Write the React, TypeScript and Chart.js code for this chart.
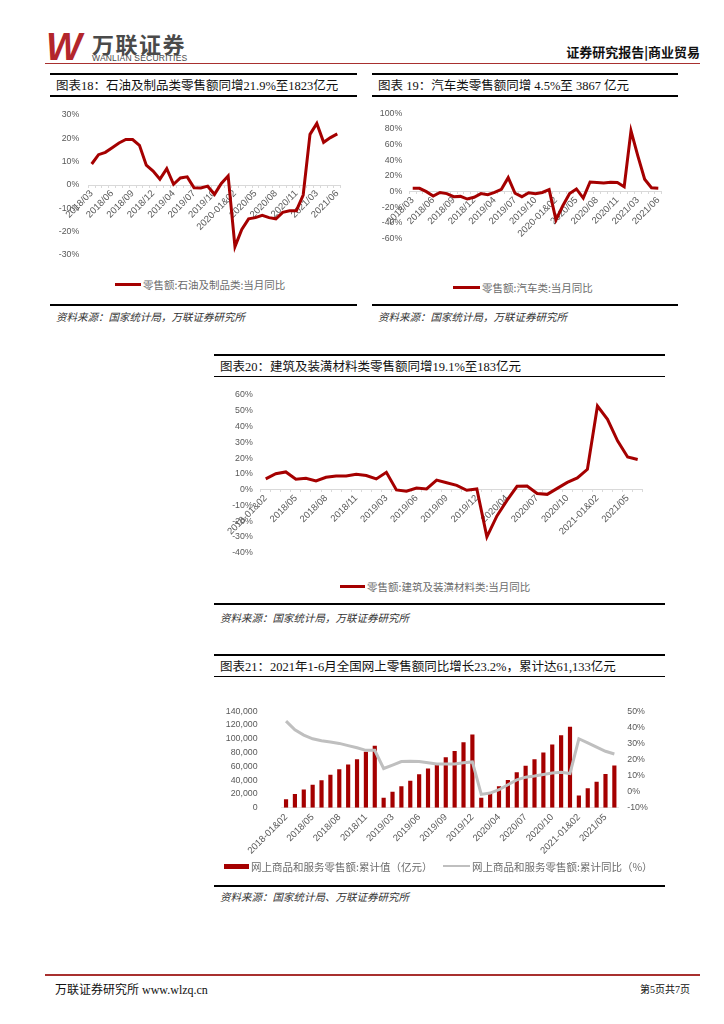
import React, { useEffect, useRef } from 'react';
import { Chart, registerables } from 'chart.js';

Chart.register(...registerables);

// ---------------- data ----------------
const monthsA = [
  '2018/03', '2018/04', '2018/05', '2018/06', '2018/07', '2018/08', '2018/09', '2018/10', '2018/11', '2018/12',
  '2019-01&02', '2019/03', '2019/04', '2019/05', '2019/06', '2019/07', '2019/08', '2019/09', '2019/10', '2019/11', '2019/12',
  '2020-01&02', '2020/03', '2020/04', '2020/05', '2020/06', '2020/07', '2020/08', '2020/09', '2020/10', '2020/11', '2020/12',
  '2021-01&02', '2021/03', '2021/04', '2021/05', '2021/06',
];

const monthsB = [
  '2018-01&02', '2018/03', '2018/04', '2018/05', '2018/06', '2018/07', '2018/08', '2018/09', '2018/10', '2018/11', '2018/12',
  '2019-01&02', '2019/03', '2019/04', '2019/05', '2019/06', '2019/07', '2019/08', '2019/09', '2019/10', '2019/11', '2019/12',
  '2020-01&02', '2020/03', '2020/04', '2020/05', '2020/06', '2020/07', '2020/08', '2020/09', '2020/10', '2020/11', '2020/12',
  '2021-01&02', '2021/03', '2021/04', '2021/05', '2021/06',
];

// 图表18 石油及制品类 当月同比 (%)
const petroYoY = [
  9, 13, 14, 16, 18, 19.5, 19.5, 17, 8.5, 6,
  2.5, 7, 0.3, 3, 3.5, -1.2, -1.3, -0.5, -4, 0.7, 3.9,
  -26.4, -19, -14.5, -14, -13, -14, -14.5, -11.7, -11, -11, -4.3,
  21.7, 26.4, 18.3, 20.3, 21.9,
];

// 图表19 汽车类 当月同比 (%)
const autoYoY = [
  4.3, 4.3, 0, -5.5, -1, -2.5, -6.4, -6, -9.4, -7.2,
  -2.5, -3.8, -1, 3, 17.9, -2, -6.4, -1.3, -2.5, -1, 2.6,
  -36, -18, -2.4, 3.5, -8.2, 12.3, 11.8, 11.2, 12, 11.8, 6.4,
  77.6, 45.7, 15.8, 5, 4.5,
];

// 图表20 建筑及装潢材料类 当月同比 (%)
const buildYoY = [
  6.8, 10.1, 11.2, 6.6, 7.2, 5.5, 7.8, 8.7, 8.7, 9.7, 8.9,
  6.8, 11, -0.2, -1, 1, 0.4, 6, 4.4, 2.7, -0.4, 0.4,
  -30, -16.7, -6.8, 2.1, 2.3, -2.5, -3, 0.8, 4.6, 7.4, 12.9,
  53, 44.6, 30.9, 20.7, 19.1,
];

// 图表21 网上商品和服务零售额 累计值 (亿元)
const onlineCum = [
  12400, 20000, 26400, 33200, 40000, 48000, 56000, 62800, 70400, 81200, 90100,
  14400, 23200, 31200, 39200, 48400, 56800, 64400, 73200, 82500, 95200, 106300,
  14400, 21600, 31200, 40400, 51600, 60800, 70400, 80000, 91700, 105200, 117600,
  17600, 28100, 37700, 48800, 61100,
];

// 图表21 网上商品和服务零售额 累计同比 (%)
const onlineYoY = [
  43.9, 38.5, 35.2, 32.9, 31.7, 30.9, 30, 28.6, 27.3, 25.7, 25.7,
  14.4, 16.5, 18.7, 18.9, 18.7, 18, 17.2, 17.2, 17.2, 18, 18.5,
  -1.7, -0.9, 1.2, 4.3, 7.3, 9, 9.7, 10.6, 11.6, 12, 11.3,
  32.9, 30.3, 27.7, 25.1, 23.4,
];

// ---------------- styles ----------------
const RED = '#a50000';
const LINE_GREY = '#bfbfbf';
const AXIS_TEXT = '#595959';
const X_FONT = { family: '"Liberation Sans", Arial, sans-serif', size: 9.5 };
const Y_FONT = { family: '"Liberation Sans", Arial, sans-serif', size: 8.8 };
const CJK = '"Liberation Serif", "Noto Sans CJK SC", serif';
const CJK_SANS = '"Noto Sans CJK SC", sans-serif';

const everyThird = (labels: string[]) => (_v: any, i: number) => (i % 3 === 0 ? labels[i] : '');

function lineConfig(
  labels: string[],
  data: number[],
  yMin: number,
  yMax: number,
  step: number,
  axisWidth: number,
  tickPad: number,
  pad: { top: number; bottom: number; right: number },
): any {
  return {
    type: 'line',
    data: {
      labels,
      datasets: [
        {
          data,
          borderColor: RED,
          backgroundColor: RED,
          borderWidth: 3,
          pointRadius: 0,
          tension: 0,
          fill: false,
        },
      ],
    },
    options: {
      animation: false,
      responsive: false,
      maintainAspectRatio: false,
      layout: { padding: { top: pad.top, bottom: pad.bottom, right: pad.right, left: 0 } },
      plugins: { legend: { display: false }, tooltip: { enabled: false } },
      scales: {
        x: {
          type: 'category',
          offset: true,
          position: { y: 0 },
          grid: { display: true, drawOnChartArea: false, drawTicks: true, tickLength: 2, offset: true, color: '#d9d9d9' },
          border: { display: true, color: '#d9d9d9', width: 1 },
          ticks: {
            autoSkip: false,
            minRotation: 45,
            maxRotation: 45,
            padding: 1,
            color: AXIS_TEXT,
            font: X_FONT,
            callback: everyThird(labels),
          },
        },
        y: {
          min: yMin,
          max: yMax,
          afterFit: (s: any) => {
            s.width = axisWidth;
          },
          grid: { display: false, drawTicks: false },
          border: { display: false },
          ticks: {
            stepSize: step,
            padding: tickPad,
            color: AXIS_TEXT,
            font: Y_FONT,
            callback: (v: any) => v + '%',
          },
        },
      },
    },
  };
}

function comboConfig(): any {
  return {
    type: 'bar',
    data: {
      labels: monthsB,
      datasets: [
        {
          type: 'line',
          data: onlineYoY,
          yAxisID: 'y1',
          borderColor: LINE_GREY,
          backgroundColor: LINE_GREY,
          borderWidth: 3,
          pointRadius: 0,
          tension: 0,
          order: 0,
        },
        {
          type: 'bar',
          data: onlineCum,
          yAxisID: 'y',
          backgroundColor: RED,
          barPercentage: 0.47,
          categoryPercentage: 1,
          order: 1,
        },
      ],
    },
    options: {
      animation: false,
      responsive: false,
      maintainAspectRatio: false,
      layout: { padding: { top: 10.3, bottom: 52.3, left: 0, right: 0 } },
      plugins: { legend: { display: false }, tooltip: { enabled: false } },
      scales: {
        x: {
          type: 'category',
          offset: true,
          position: { y: 0 },
          grid: { display: false, drawTicks: false },
          border: { display: true, color: '#e3e3e3', width: 1 },
          ticks: {
            autoSkip: false,
            minRotation: 45,
            maxRotation: 45,
            padding: 4,
            color: AXIS_TEXT,
            font: X_FONT,
            callback: everyThird(monthsB),
          },
        },
        y: {
          position: 'left',
          min: 0,
          max: 140000,
          afterFit: (s: any) => {
            s.width = 67.6;
          },
          grid: { display: false, drawTicks: false },
          border: { display: false },
          ticks: {
            stepSize: 20000,
            padding: 24,
            color: AXIS_TEXT,
            font: Y_FONT,
            callback: (v: any) => Number(v).toLocaleString('en-US'),
          },
        },
        y1: {
          position: 'right',
          min: -10,
          max: 50,
          afterFit: (s: any) => {
            s.width = 46.2;
          },
          grid: { display: false, drawTicks: false },
          border: { display: false },
          ticks: {
            stepSize: 10,
            padding: 8.5,
            color: AXIS_TEXT,
            font: Y_FONT,
            callback: (v: any) => v + '%',
          },
        },
      },
    },
  };
}

// ---------------- components ----------------
function ChartBox(props: { make: () => any; left: number; top: number; width: number; height: number }) {
  const ref = useRef<HTMLCanvasElement | null>(null);
  useEffect(() => {
    if (!ref.current) return;
    const chart = new Chart(ref.current, props.make());
    return () => chart.destroy();
  }, []);
  return (
    <canvas
      ref={ref}
      width={props.width}
      height={props.height}
      style={{ position: 'absolute', left: props.left, top: props.top, width: props.width, height: props.height }}
    />
  );
}

function Bar(props: { x: number; y: number; w: number; h: number; c?: string }) {
  return (
    <div
      style={{
        position: 'absolute',
        left: props.x,
        top: props.y - props.h / 2,
        width: props.w,
        height: props.h,
        background: props.c || '#000',
      }}
    />
  );
}

function Txt(props: {
  x?: number;
  right?: number;
  cy: number;
  size: number;
  children: any;
  color?: string;
  weight?: number;
  italic?: boolean;
  family?: string;
  spacing?: number;
}) {
  const lh = Math.round(props.size * 1.4);
  const st: any = {
    position: 'absolute',
    top: props.cy - lh / 2,
    height: lh,
    lineHeight: lh + 'px',
    fontSize: props.size,
    fontFamily: props.family || CJK,
    color: props.color || '#000',
    fontWeight: props.weight || 400,
    fontStyle: props.italic ? 'italic' : 'normal',
    whiteSpace: 'nowrap',
    letterSpacing: props.spacing ? props.spacing + 'px' : undefined,
  };
  if (props.right !== undefined) st.right = props.right;
  else st.left = props.x;
  return <div style={st}>{props.children}</div>;
}

function Frame(props: {
  x: number;
  w: number;
  topLine: number;
  title: string;
  titleY: number;
  underLine: number;
  bottomLine: number;
  source: string;
  sourceY: number;
}) {
  return (
    <>
      <Bar x={props.x} y={props.topLine} w={props.w} h={2} />
      <Txt x={props.x + 6} cy={props.titleY} size={12.5} color="#111">
        {props.title}
      </Txt>
      <Bar x={props.x} y={props.underLine} w={props.w} h={1.6} />
      <Bar x={props.x} y={props.bottomLine} w={props.w} h={1.8} />
      <Txt x={props.x + 6} cy={props.sourceY} size={10.5} italic color="#333" family={CJK_SANS}>
        {props.source}
      </Txt>
    </>
  );
}

function LineLegend(props: { x: number; y: number; w: number; color: string; thick: number; text: string }) {
  return (
    <>
      <Bar x={props.x} y={props.y} w={props.w} h={props.thick} c={props.color} />
      <Txt x={props.x + props.w + 2} cy={props.y} size={10.5} color="#6b6b6b" family={CJK_SANS}>
        {props.text}
      </Txt>
    </>
  );
}

export default function App() {
  return (
    <div
      style={{
        position: 'absolute',
        left: 0,
        top: 0,
        width: 724,
        height: 1024,
        background: '#fff',
        overflow: 'hidden',
      }}
    >
      {/* header */}
      <div
        style={{
          position: 'absolute',
          left: 46,
          top: 28,
          fontFamily: '"Liberation Sans", Arial, sans-serif',
          fontWeight: 700,
          fontStyle: 'italic',
          fontSize: 38,
          lineHeight: '38px',
          color: '#b3262c',
        }}
      >
        W
      </div>
      <Txt x={92} cy={43} size={22} weight={700} color="#4a4a4a" family={CJK_SANS} spacing={1.5}>
        万联证券
      </Txt>
      <Txt x={92} cy={58} size={8.5} color="#4a4a4a" family='"Liberation Sans", Arial, sans-serif' spacing={0.2}>
        WANLIAN SECURITIES
      </Txt>
      <Txt right={24} cy={52} size={13} weight={700} color="#111" family={CJK_SANS}>
        证券研究报告|商业贸易
      </Txt>
      <Bar x={45} y={63.5} w={655} h={1.6} c="#a8302f" />

      {/* 图表18 */}
      <Frame
        x={50}
        w={307}
        topLine={74}
        title="图表18：石油及制品类零售额同增21.9%至1823亿元"
        titleY={86}
        underLine={96}
        bottomLine={305}
        source="资料来源：国家统计局，万联证券研究所"
        sourceY={316}
      />
      <ChartBox
        left={50}
        top={100}
        width={307}
        height={175}
        make={() => lineConfig(monthsA, petroYoY, -30, 30, 10, 38.3, 9, { top: 15, bottom: 20, right: 16.3 })}
      />
      <LineLegend x={115} y={284.5} w={26} color={RED} thick={3} text="零售额:石油及制品类:当月同比" />

      {/* 图表19 */}
      <Frame
        x={372}
        w={306}
        topLine={74}
        title="图表 19：汽车类零售额同增 4.5%至 3867 亿元"
        titleY={86}
        underLine={96}
        bottomLine={305}
        source="资料来源：国家统计局，万联证券研究所"
        sourceY={316}
      />
      <ChartBox
        left={372}
        top={100}
        width={306}
        height={175}
        make={() => lineConfig(monthsA, autoYoY, -60, 100, 20, 37.3, 7, { top: 13.3, bottom: 36.3, right: 16.3 })}
      />
      <LineLegend x={453} y={287.5} w={27} color={RED} thick={3} text="零售额:汽车类:当月同比" />

      {/* 图表20 */}
      <Frame
        x={214}
        w={451}
        topLine={355}
        title="图表20：建筑及装潢材料类零售额同增19.1%至183亿元"
        titleY={366.5}
        underLine={376.5}
        bottomLine={604.3}
        source="资料来源：国家统计局，万联证券研究所"
        sourceY={617}
      />
      <ChartBox
        left={214}
        top={380}
        width={451}
        height={190}
        make={() => lineConfig(monthsB, buildYoY, -40, 60, 10, 46.7, 8, { top: 15, bottom: 17.3, right: 22.3 })}
      />
      <LineLegend x={340} y={586} w={25} color={RED} thick={3} text="零售额:建筑及装潢材料类:当月同比" />

      {/* 图表21 */}
      <Frame
        x={214}
        w={451}
        topLine={655}
        title="图表21：2021年1-6月全国网上零售额同比增长23.2%，累计达61,133亿元"
        titleY={666.5}
        underLine={676.5}
        bottomLine={885.7}
        source="资料来源：国家统计局、万联证券研究所"
        sourceY={896}
      />
      <ChartBox left={214} top={682} width={451} height={178} make={comboConfig} />
      <Bar x={224} y={866} w={25} h={5} c={RED} />
      <Txt x={251} cy={866} size={10.5} color="#6b6b6b" family={CJK_SANS}>
        网上商品和服务零售额:累计值（亿元）
      </Txt>
      <Bar x={443} y={866} w={27} h={2.5} c={LINE_GREY} />
      <Txt x={472} cy={866} size={10.5} color="#6b6b6b" family={CJK_SANS}>
        网上商品和服务零售额:累计同比（%）
      </Txt>

      {/* footer */}
      <Bar x={45} y={975} w={655} h={2} c="#a8302f" />
      <Txt x={55} cy={990} size={12} color="#111">
        万联证券研究所 www.wlzq.cn
      </Txt>
      <Txt right={34} cy={990} size={10} color="#111">
        第5页共7页
      </Txt>
    </div>
  );
}
